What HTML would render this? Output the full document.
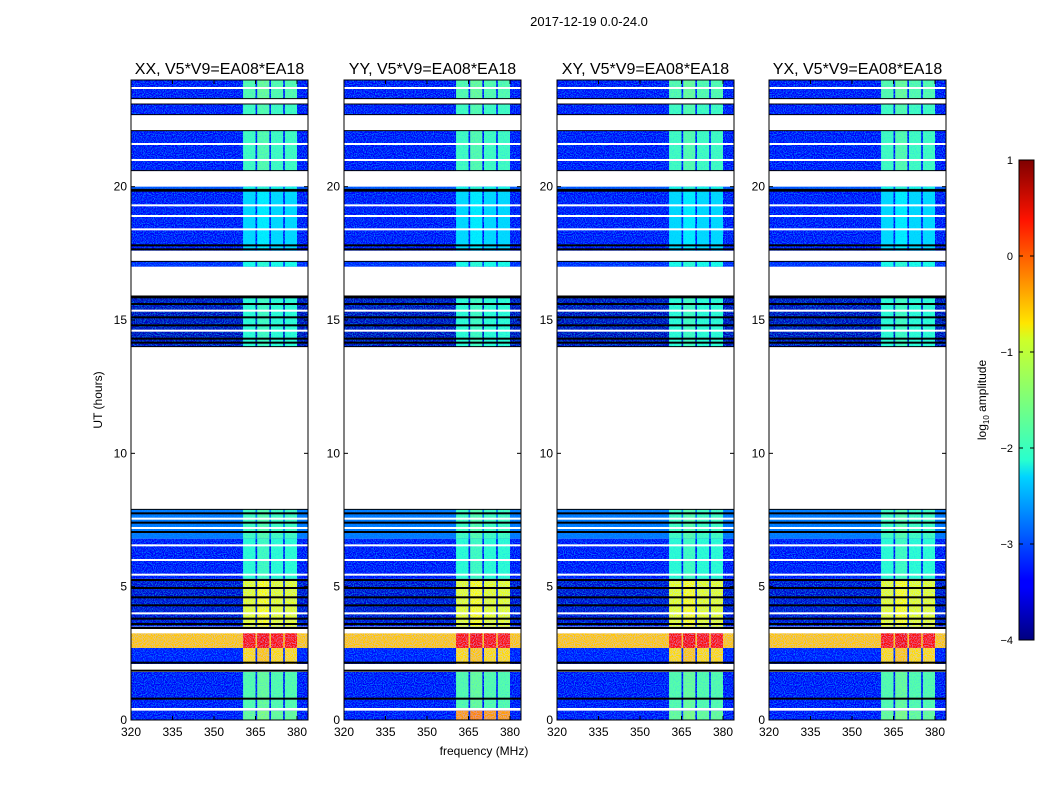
<!DOCTYPE html>
<html><head><meta charset="utf-8">
<style>
body{margin:0;background:#fff;font-family:"Liberation Sans",sans-serif;}
svg text{font-family:"Liberation Sans",sans-serif;}
</style></head>
<body>
<svg id="fig" width="1050" height="800" xmlns="http://www.w3.org/2000/svg">
<defs>
<filter id="noise" x="0" y="0" width="1" height="1">
<feTurbulence type="fractalNoise" baseFrequency="0.9" numOctaves="1" seed="3" result="t"/>
<feColorMatrix in="t" type="matrix" values="0 0 0 0 0  0 0 0 0 0.45  0 0 0 0 1  0 0 0 1.6 -0.75" result="n"/>
<feComposite in="n" in2="SourceAlpha" operator="in" result="nc"/>
<feMerge><feMergeNode in="SourceGraphic"/><feMergeNode in="nc"/></feMerge>
</filter>
<linearGradient id="jet" x1="0" y1="1" x2="0" y2="0">
<stop offset="0" stop-color="#00007f"/><stop offset="0.11" stop-color="#0000ff"/>
<stop offset="0.125" stop-color="#0000ff"/><stop offset="0.34" stop-color="#00d4ff"/>
<stop offset="0.375" stop-color="#29ffce"/><stop offset="0.5" stop-color="#7dff7a"/>
<stop offset="0.625" stop-color="#ceff29"/><stop offset="0.66" stop-color="#ffe600"/>
<stop offset="0.875" stop-color="#ff1300"/><stop offset="1" stop-color="#7f0000"/>
</linearGradient>
</defs>
<text x="589" y="26" font-size="13" text-anchor="middle">2017-12-19 0.0-24.0</text>
<g id="panels"></g>
<text x="484" y="755" font-size="12" text-anchor="middle">frequency (MHz)</text>
<text transform="translate(102,400) rotate(-90)" font-size="12" text-anchor="middle">UT (hours)</text>
<g>
<rect x="1019" y="160" width="15" height="480" fill="url(#jet)" stroke="#000" stroke-width="1"/>
<g id="cbticks"></g>
<text transform="translate(986,400) rotate(-90)" font-size="12" text-anchor="middle">log<tspan font-size="8" dy="3">10</tspan><tspan dy="-3"> amplitude</tspan></text>
</g>
</svg>
<script>
// data
const panelTitles = ["XX, V5*V9=EA08*EA18","YY, V5*V9=EA08*EA18","XY, V5*V9=EA08*EA18","YX, V5*V9=EA08*EA18"];
const xTicks = [320,335,350,365,380];
const yTicks = [0,5,10,15,20];
const cbTicks = [-4,-3,-2,-1,0,1];
// time segments (hours) with background level and band level (log10 amplitude)
const segStart = [0.0,0.45,2.1,2.7,3.5,5.3,6.8,14.0,17.0,17.6,19.9,20.6,22.7,23.3];
const segEnd   = [0.35,1.8,2.7,3.25,5.3,6.8,7.9,15.9,17.2,19.9,20.0,22.1,23.1,24.0];
const bgLevel  = [-3.4,-3.4,-3.3,-0.6,-3.6,-3.4,-2.8,-3.7,-3.2,-3.4,-3.0,-3.4,-3.4,-3.4];
const bandLevel= [-1.6,-1.7,-0.7,0.3,-1.0,-1.9,-1.8,-1.9,-2.0,-2.3,-2.0,-1.8,-1.8,-1.7];
const whiteLines = [1.95,2.05,3.35,4.0,5.45,6.0,6.55,7.2,7.55,14.6,15.35,18.4,18.9,19.3,21.0,21.6,23.7];
const blackLines = [0.8,1.85,2.15,3.45,3.6,3.8,4.3,4.6,4.95,5.25,7.05,7.4,7.75,14.15,14.3,14.8,15.1,15.6,15.85,17.65,17.8,19.85];
// band frequency segments (MHz)
const bandStart = [360.5,365.6,370.6,375.6];
const bandEnd   = [365.0,370.0,375.0,380.0];

const NS="http://www.w3.org/2000/svg";
const pxLeft=[131,344,557,769], pw=177, yTop=80, yBot=720;
const fx=(f,i)=>pxLeft[i]+(f-320)*(166/60);
const hy=h=>yBot-h*(640/24);
function jet(v){ // v in [-4,1]
  let t=(v+4)/5; t=Math.max(0,Math.min(1,t));
  const c=x=>Math.round(255*Math.max(0,Math.min(1,x)));
  const r=c(1.5-Math.abs(4*t-3)), g=c(1.5-Math.abs(4*t-2)), b=c(1.5-Math.abs(4*t-1));
  return `rgb(${r},${g},${b})`;
}
function el(tag,attrs,parent){const e=document.createElementNS(NS,tag);for(const k in attrs)e.setAttribute(k,attrs[k]);parent.appendChild(e);return e;}
const panels=document.getElementById('panels');
for(let i=0;i<4;i++){
  const g=el('g',{},panels);
  
  
  const cp=el('clipPath',{id:'cp'+i},g);
  el('rect',{x:pxLeft[i],y:yTop,width:pw,height:yBot-yTop},cp);
  const inner=el('g',{'clip-path':'url(#cp'+i+')'},g);
  const segs=el('g',{filter:'url(#noise)'},inner);
  for(let s=0;s<segStart.length;s++){
    const y1=hy(segEnd[s]), y2=hy(segStart[s]);
    const r=el('rect',{x:pxLeft[i],y:y1,width:pw,height:y2-y1,fill:jet(bgLevel[s])},segs);
    
    
    let bl=bandLevel[s]; if(i===1&&s===0) bl=-0.4;
    for(let b=0;b<bandStart.length;b++){
      const x1=fx(bandStart[b],i), x2=fx(bandEnd[b],i);
      const br=el('rect',{x:x1,y:y1,width:x2-x1,height:y2-y1,fill:jet(bl+(b===1?0.1:0))},segs);
      
      
    }
  }
  for(const h of whiteLines){const l=el('rect',{x:pxLeft[i],y:hy(h)-1,width:pw,height:2,fill:'#fff'},inner);}
  for(const h of blackLines){const l=el('rect',{x:pxLeft[i],y:hy(h)-1,width:pw,height:2,fill:'#000'},inner);}
  for(const h of [7.9,14.0,15.9,17.2,19.9,20.6,22.1,22.7,23.1,23.3]){el('line',{x1:pxLeft[i],x2:pxLeft[i]+pw,y1:hy(h),y2:hy(h),stroke:'#000','stroke-width':1},inner);}
  const fr=el('rect',{x:pxLeft[i],y:yTop,width:pw,height:yBot-yTop,fill:'none',stroke:'#000','stroke-width':1},g);
  
  
  const t=el('text',{x:pxLeft[i]+pw/2,y:74,'font-size':16,'text-anchor':'middle'},g);
  t.textContent=panelTitles[i];
  
  
  for(const v of xTicks){
    const x=fx(v,i);
    el('line',{x1:x,x2:x,y1:yBot,y2:yBot-4,stroke:'#000'},g);
    el('line',{x1:x,x2:x,y1:yTop,y2:yTop+4,stroke:'#000'},g);
    const tx=el('text',{x:x,y:736,'font-size':12,'text-anchor':'middle'},g);
    tx.textContent=v;
    
    
  }
  for(const v of yTicks){
    const y=hy(v);
    el('line',{x1:pxLeft[i],x2:pxLeft[i]+4,y1:y,y2:y,stroke:'#000'},g);
    el('line',{x1:pxLeft[i]+pw,x2:pxLeft[i]+pw-4,y1:y,y2:y,stroke:'#000'},g);
    const ty=el('text',{x:pxLeft[i]-4,y:y+4,'font-size':12,'text-anchor':'end'},g);
    ty.textContent=v;
    
    
  }
}
const cbg=document.getElementById('cbticks');
for(const v of cbTicks){
  const y=640-(v+4)*96;
  el('line',{x1:1019,x2:1023,y1:y,y2:y,stroke:'#000'},cbg);
  el('line',{x1:1034,x2:1030,y1:y,y2:y,stroke:'#000'},cbg);
  const t=el('text',{x:1013,y:y+4,'font-size':11,'text-anchor':'end'},cbg);
  t.textContent=v<0?'\u2212'+(-v):v;
  
  
}
</script>
</body></html>
